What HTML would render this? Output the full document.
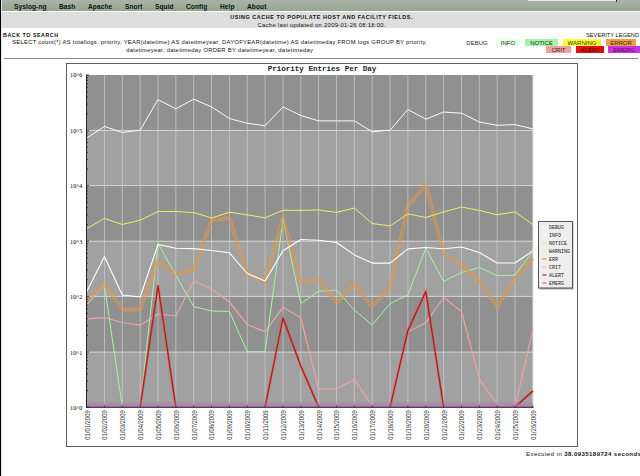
<!DOCTYPE html>
<html><head><meta charset="utf-8"><style>
html,body{margin:0;padding:0;background:#fff;width:640px;height:476px;overflow:hidden;position:relative;font-family:"Liberation Sans",sans-serif;}
.abs{position:absolute;white-space:nowrap;}
#lb{position:absolute;left:0;top:0;width:1px;height:476px;background:#000;}
#lb2{position:absolute;left:1px;top:0;width:1px;height:476px;background:#e4e4e4;}
#nav{position:absolute;left:0;top:0;width:640px;height:11px;background:linear-gradient(#a7b5a4,#96a693);}
#band{position:absolute;left:0;top:12px;width:640px;height:16px;background:#dedede;}
.nv{position:absolute;top:2.4px;font-size:6.6px;letter-spacing:0.08px;font-weight:bold;color:#0a160a;line-height:9px;}
.hd{position:absolute;left:1.7px;width:640px;text-align:center;font-size:6.6px;line-height:8px;color:#111;}
.t{font-size:6.4px;line-height:8px;color:#111;}
.lgb{position:absolute;height:7px;font-size:6px;line-height:8px;text-align:center;color:#2a2a2a;overflow:hidden;}
svg{position:absolute;left:0;top:0;}
.yl{font-family:"Liberation Serif",serif;font-size:6.2px;fill:#000;}
.xl{font-family:"Liberation Sans",sans-serif;font-size:6.3px;fill:#333;}
.title{font-family:"Liberation Mono",monospace;font-size:7.55px;font-weight:bold;fill:#222;}
.lg{font-family:"Liberation Mono",monospace;font-size:5px;fill:#222;}
</style></head><body>
<div id="nav"></div>
<div id="band"></div>
<div class="nv" style="left:14px">Syslog-ng</div>
<div class="nv" style="left:59px">Bash</div>
<div class="nv" style="left:88px">Apache</div>
<div class="nv" style="left:125px">Snort</div>
<div class="nv" style="left:155px">Squid</div>
<div class="nv" style="left:186px">Config</div>
<div class="nv" style="left:220px">Help</div>
<div class="nv" style="left:247px">About</div>
<div style="position:absolute;left:528px;top:0;width:88px;height:1.3px;background:#e2eae0;"></div><div style="position:absolute;left:616px;top:0;width:1px;height:1.5px;background:#333;"></div>
<div class="hd" style="top:13.3px;font-weight:bold;font-size:5.45px;letter-spacing:0.56px;">USING CACHE TO POPULATE HOST AND FACILITY FIELDS,</div>
<div class="hd" style="top:20.7px;font-size:5.9px;letter-spacing:0.27px;">Cache last updated on 2009-01-26 08:18:00.</div>
<div class="abs t" style="left:3px;top:31.3px;font-weight:bold;font-size:5.3px;letter-spacing:0.55px;">BACK TO SEARCH</div>
<div class="abs t" style="left:1.2px;top:38.2px;width:437px;text-align:center;white-space:normal;font-size:5.85px;letter-spacing:0.27px;">SELECT count(*) AS totallogs, priority, YEAR(datetime) AS datetimeyear, DAYOFYEAR(datetime) AS datetimeday FROM logs GROUP BY priority,<br>datetimeyear, datetimeday ORDER BY datetimeyear, datetimeday</div>
<div class="abs t" style="left:586px;top:30.7px;font-size:5.7px;">SEVERITY LEGEND</div>
<div class="lgb" style="left:462px;top:39px;width:30px;">DEBUG</div>
<div class="lgb" style="left:496px;top:39px;width:24px;background:#e6ffe6;color:#203820;">INFO</div>
<div class="lgb" style="left:525px;top:39px;width:33px;background:#aaf0aa;color:#1a401a;">NOTICE</div>
<div class="lgb" style="left:563px;top:39px;width:38px;background:#ffff33;">WARNING</div>
<div class="lgb" style="left:606px;top:39px;width:30px;background:#f0a040;">ERROR</div>
<div class="lgb" style="left:546px;top:46px;width:25px;background:#f0a0a0;">CRIT</div>
<div class="lgb" style="left:576px;top:46px;width:28px;background:#dd1111;color:#660000;">ALERT</div>
<div class="lgb" style="left:608px;top:46px;width:32px;background:#cc33dd;color:#660066;">EMERG</div>
<div style="position:absolute;left:4px;top:58px;width:634px;height:1px;background:#8a8a8a;"></div>
<svg width="640" height="476" viewBox="0 0 640 476">
<rect x="66.5" y="63.5" width="511" height="383" fill="#fff" stroke="#5e5e5e" stroke-width="1"/>
<rect x="86.6" y="75.00" width="446.25" height="55.40" fill="#909090"/>
<rect x="86.6" y="130.40" width="446.25" height="55.20" fill="#a1a1a1"/>
<rect x="86.6" y="185.60" width="446.25" height="55.60" fill="#909090"/>
<rect x="86.6" y="241.20" width="446.25" height="55.20" fill="#a1a1a1"/>
<rect x="86.6" y="296.40" width="446.25" height="55.70" fill="#909090"/>
<rect x="86.6" y="352.10" width="446.25" height="55.10" fill="#a1a1a1"/>
<line x1="104.45" y1="75" x2="104.45" y2="407" stroke="#d0d0d0" stroke-width="0.7"/>
<line x1="122.30" y1="75" x2="122.30" y2="407" stroke="#d0d0d0" stroke-width="0.7"/>
<line x1="140.15" y1="75" x2="140.15" y2="407" stroke="#d0d0d0" stroke-width="0.7"/>
<line x1="158.00" y1="75" x2="158.00" y2="407" stroke="#d0d0d0" stroke-width="0.7"/>
<line x1="175.85" y1="75" x2="175.85" y2="407" stroke="#d0d0d0" stroke-width="0.7"/>
<line x1="193.70" y1="75" x2="193.70" y2="407" stroke="#d0d0d0" stroke-width="0.7"/>
<line x1="211.55" y1="75" x2="211.55" y2="407" stroke="#d0d0d0" stroke-width="0.7"/>
<line x1="229.40" y1="75" x2="229.40" y2="407" stroke="#d0d0d0" stroke-width="0.7"/>
<line x1="247.25" y1="75" x2="247.25" y2="407" stroke="#d0d0d0" stroke-width="0.7"/>
<line x1="265.10" y1="75" x2="265.10" y2="407" stroke="#d0d0d0" stroke-width="0.7"/>
<line x1="282.95" y1="75" x2="282.95" y2="407" stroke="#d0d0d0" stroke-width="0.7"/>
<line x1="300.80" y1="75" x2="300.80" y2="407" stroke="#d0d0d0" stroke-width="0.7"/>
<line x1="318.65" y1="75" x2="318.65" y2="407" stroke="#d0d0d0" stroke-width="0.7"/>
<line x1="336.50" y1="75" x2="336.50" y2="407" stroke="#d0d0d0" stroke-width="0.7"/>
<line x1="354.35" y1="75" x2="354.35" y2="407" stroke="#d0d0d0" stroke-width="0.7"/>
<line x1="372.20" y1="75" x2="372.20" y2="407" stroke="#d0d0d0" stroke-width="0.7"/>
<line x1="390.05" y1="75" x2="390.05" y2="407" stroke="#d0d0d0" stroke-width="0.7"/>
<line x1="407.90" y1="75" x2="407.90" y2="407" stroke="#d0d0d0" stroke-width="0.7"/>
<line x1="425.75" y1="75" x2="425.75" y2="407" stroke="#d0d0d0" stroke-width="0.7"/>
<line x1="443.60" y1="75" x2="443.60" y2="407" stroke="#d0d0d0" stroke-width="0.7"/>
<line x1="461.45" y1="75" x2="461.45" y2="407" stroke="#d0d0d0" stroke-width="0.7"/>
<line x1="479.30" y1="75" x2="479.30" y2="407" stroke="#d0d0d0" stroke-width="0.7"/>
<line x1="497.15" y1="75" x2="497.15" y2="407" stroke="#d0d0d0" stroke-width="0.7"/>
<line x1="515.00" y1="75" x2="515.00" y2="407" stroke="#d0d0d0" stroke-width="0.7"/>
<line x1="532.85" y1="75" x2="532.85" y2="407" stroke="#d0d0d0" stroke-width="0.7"/>
<line x1="86.6" y1="130.40" x2="532.85" y2="130.40" stroke="#d6d6d6" stroke-width="0.9"/>
<line x1="86.6" y1="185.60" x2="532.85" y2="185.60" stroke="#d6d6d6" stroke-width="0.9"/>
<line x1="86.6" y1="241.20" x2="532.85" y2="241.20" stroke="#d6d6d6" stroke-width="0.9"/>
<line x1="86.6" y1="296.40" x2="532.85" y2="296.40" stroke="#d6d6d6" stroke-width="0.9"/>
<line x1="86.6" y1="352.10" x2="532.85" y2="352.10" stroke="#d6d6d6" stroke-width="0.9"/>
<defs><clipPath id="cp"><rect x="80" y="60" width="460" height="345.8"/></clipPath></defs>
<polyline clip-path="url(#cp)" points="86.6,138.3 104.4,126.4 122.3,132.5 140.2,130.1 158.0,99.6 175.8,108.8 193.7,99.2 211.6,106.9 229.4,118.5 247.2,123.3 265.1,125.7 283.0,106.9 300.8,115.5 318.6,120.9 336.5,120.9 354.4,120.9 372.2,131.8 390.1,130.1 407.9,109.5 425.8,119.2 443.6,112.0 461.5,113.2 479.3,122.0 497.1,125.3 515.0,124.6 532.9,128.9" fill="none" stroke="#f0fff0" stroke-width="1.0" stroke-linejoin="round"/>
<polyline clip-path="url(#cp)" points="86.6,318.8 104.4,317.7 122.3,322.5 140.2,325.2 158.0,314.0 175.8,316.0 193.7,281.0 211.6,289.0 229.4,302.0 247.2,324.5 265.1,331.8 283.0,307.2 300.8,317.7 318.6,389.0 336.5,389.0 354.4,379.4 372.2,406.0 390.1,407.0 407.9,332.0 425.8,322.6 443.6,297.5 461.5,311.4 479.3,379.0 497.1,404.0 515.0,407.0 532.9,329.5" fill="none" stroke="#e8a4a4" stroke-width="1.25" stroke-linejoin="round"/>
<polyline clip-path="url(#cp)" points="86.6,305.0 104.4,285.0 122.3,407.0 140.2,407.0 158.0,243.5 175.8,275.0 193.7,306.6 211.6,311.0 229.4,311.4 247.2,351.7 265.1,351.7 283.0,219.5 300.8,303.5 318.6,291.3 336.5,290.0 354.4,310.0 372.2,325.0 390.1,303.5 407.9,295.0 425.8,248.0 443.6,281.4 461.5,272.5 479.3,267.5 497.1,275.7 515.0,275.0 532.9,251.6" fill="none" stroke="#a4f4a4" stroke-width="1" stroke-linejoin="round"/>
<defs><mask id="errm" maskUnits="userSpaceOnUse" x="0" y="0" width="640" height="476"><polyline points="86.6,301.0 104.4,284.0 122.3,309.5 140.2,309.5 158.0,261.0 175.8,274.0 193.7,270.0 211.6,220.0 229.4,218.2 247.2,273.0 265.1,281.6 283.0,217.7 300.8,283.0 318.6,279.0 336.5,303.0 354.4,284.0 372.2,306.5 390.1,288.0 407.9,206.0 425.8,184.6 443.6,253.0 461.5,265.5 479.3,280.7 497.1,306.3 515.0,279.0 532.9,258.0" fill="none" stroke="#fff" stroke-width="3.8" stroke-linejoin="round"/><polyline points="86.6,301.0 104.4,284.0 122.3,309.5 140.2,309.5 158.0,261.0 175.8,274.0 193.7,270.0 211.6,220.0 229.4,218.2 247.2,273.0 265.1,281.6 283.0,217.7 300.8,283.0 318.6,279.0 336.5,303.0 354.4,284.0 372.2,306.5 390.1,288.0 407.9,206.0 425.8,184.6 443.6,253.0 461.5,265.5 479.3,280.7 497.1,306.3 515.0,279.0 532.9,258.0" fill="none" stroke="#000" stroke-width="1.6" stroke-linejoin="round"/></mask></defs>
<polyline points="86.6,301.0 104.4,284.0 122.3,309.5 140.2,309.5 158.0,261.0 175.8,274.0 193.7,270.0 211.6,220.0 229.4,218.2 247.2,273.0 265.1,281.6 283.0,217.7 300.8,283.0 318.6,279.0 336.5,303.0 354.4,284.0 372.2,306.5 390.1,288.0 407.9,206.0 425.8,184.6 443.6,253.0 461.5,265.5 479.3,280.7 497.1,306.3 515.0,279.0 532.9,258.0" fill="none" stroke="#dc9a58" stroke-opacity="0.35" stroke-width="3.8" stroke-linejoin="round"/>
<polyline mask="url(#errm)" points="86.6,301.0 104.4,284.0 122.3,309.5 140.2,309.5 158.0,261.0 175.8,274.0 193.7,270.0 211.6,220.0 229.4,218.2 247.2,273.0 265.1,281.6 283.0,217.7 300.8,283.0 318.6,279.0 336.5,303.0 354.4,284.0 372.2,306.5 390.1,288.0 407.9,206.0 425.8,184.6 443.6,253.0 461.5,265.5 479.3,280.7 497.1,306.3 515.0,279.0 532.9,258.0" fill="none" stroke="#e09848" stroke-opacity="0.7" stroke-width="3.8" stroke-linejoin="round"/>
<polyline clip-path="url(#cp)" points="86.6,292.0 104.4,256.5 122.3,295.0 140.2,297.0 158.0,244.5 175.8,248.3 193.7,248.6 211.6,250.5 229.4,252.8 247.2,273.5 265.1,281.0 283.0,250.8 300.8,239.5 318.6,240.3 336.5,242.5 354.4,254.9 372.2,263.1 390.1,263.1 407.9,248.9 425.8,247.5 443.6,248.7 461.5,247.0 479.3,252.5 497.1,263.0 515.0,263.0 532.9,250.8" fill="none" stroke="#ffffff" stroke-width="1.1" stroke-linejoin="round"/>
<polyline clip-path="url(#cp)" points="86.6,228.7 104.4,218.5 122.3,224.5 140.2,220.2 158.0,211.5 175.8,211.5 193.7,212.5 211.6,218.0 229.4,212.2 247.2,214.8 265.1,217.8 283.0,210.3 300.8,210.3 318.6,210.0 336.5,212.4 354.4,208.0 372.2,223.5 390.1,225.9 407.9,213.9 425.8,217.5 443.6,211.9 461.5,207.0 479.3,210.5 497.1,214.7 515.0,211.9 532.9,224.6" fill="none" stroke="#eeee66" stroke-width="1" stroke-linejoin="round"/>
<polyline clip-path="url(#cp)" points="86.6,407.0 104.4,407.0 122.3,407.0 140.2,407.0 158.0,285.5 175.8,407.0 193.7,407.0 211.6,407.0 229.4,407.0 247.2,407.0 265.1,407.0 283.0,318.0 300.8,366.0 318.6,407.0 336.5,407.0 354.4,407.0 372.2,407.0 390.1,407.0 407.9,330.5 425.8,291.5 443.6,407.0 461.5,407.0 479.3,407.0 497.1,407.0 515.0,407.0 532.9,391.0" fill="none" stroke="#e04848" stroke-opacity="0.55" stroke-width="2.5"/>
<polyline clip-path="url(#cp)" points="86.6,407.0 104.4,407.0 122.3,407.0 140.2,407.0 158.0,285.5 175.8,407.0 193.7,407.0 211.6,407.0 229.4,407.0 247.2,407.0 265.1,407.0 283.0,318.0 300.8,366.0 318.6,407.0 336.5,407.0 354.4,407.0 372.2,407.0 390.1,407.0 407.9,330.5 425.8,291.5 443.6,407.0 461.5,407.0 479.3,407.0 497.1,407.0 515.0,407.0 532.9,391.0" fill="none" stroke="#b81818" stroke-width="1.2" stroke-linejoin="round"/>
<defs><linearGradient id="em" x1="0" y1="0" x2="0" y2="1"><stop offset="0" stop-color="#b070b0" stop-opacity="0"/><stop offset="0.3" stop-color="#b070b0" stop-opacity="0.35"/><stop offset="1" stop-color="#b070b0" stop-opacity="0.6"/></linearGradient></defs>
<rect x="86.6" y="401.3" width="446.3" height="6" fill="url(#em)"/>
<line x1="86.5" y1="74.5" x2="86.5" y2="407.5" stroke="#222" stroke-width="1"/>
<line x1="86" y1="407.3" x2="533.5" y2="407.3" stroke="#301830" stroke-width="1"/>
<line x1="86.5" y1="113.72" x2="88" y2="113.72" stroke="#222" stroke-width="0.7"/>
<line x1="86.5" y1="103.97" x2="88" y2="103.97" stroke="#222" stroke-width="0.7"/>
<line x1="86.5" y1="97.05" x2="88" y2="97.05" stroke="#222" stroke-width="0.7"/>
<line x1="86.5" y1="91.68" x2="88" y2="91.68" stroke="#222" stroke-width="0.7"/>
<line x1="86.5" y1="87.29" x2="88" y2="87.29" stroke="#222" stroke-width="0.7"/>
<line x1="86.5" y1="83.58" x2="88" y2="83.58" stroke="#222" stroke-width="0.7"/>
<line x1="86.5" y1="80.37" x2="88" y2="80.37" stroke="#222" stroke-width="0.7"/>
<line x1="86.5" y1="77.53" x2="88" y2="77.53" stroke="#222" stroke-width="0.7"/>
<line x1="86.5" y1="168.98" x2="88" y2="168.98" stroke="#222" stroke-width="0.7"/>
<line x1="86.5" y1="159.26" x2="88" y2="159.26" stroke="#222" stroke-width="0.7"/>
<line x1="86.5" y1="152.37" x2="88" y2="152.37" stroke="#222" stroke-width="0.7"/>
<line x1="86.5" y1="147.02" x2="88" y2="147.02" stroke="#222" stroke-width="0.7"/>
<line x1="86.5" y1="142.65" x2="88" y2="142.65" stroke="#222" stroke-width="0.7"/>
<line x1="86.5" y1="138.95" x2="88" y2="138.95" stroke="#222" stroke-width="0.7"/>
<line x1="86.5" y1="135.75" x2="88" y2="135.75" stroke="#222" stroke-width="0.7"/>
<line x1="86.5" y1="132.93" x2="88" y2="132.93" stroke="#222" stroke-width="0.7"/>
<line x1="86.5" y1="224.46" x2="88" y2="224.46" stroke="#222" stroke-width="0.7"/>
<line x1="86.5" y1="214.67" x2="88" y2="214.67" stroke="#222" stroke-width="0.7"/>
<line x1="86.5" y1="207.73" x2="88" y2="207.73" stroke="#222" stroke-width="0.7"/>
<line x1="86.5" y1="202.34" x2="88" y2="202.34" stroke="#222" stroke-width="0.7"/>
<line x1="86.5" y1="197.93" x2="88" y2="197.93" stroke="#222" stroke-width="0.7"/>
<line x1="86.5" y1="194.21" x2="88" y2="194.21" stroke="#222" stroke-width="0.7"/>
<line x1="86.5" y1="190.99" x2="88" y2="190.99" stroke="#222" stroke-width="0.7"/>
<line x1="86.5" y1="188.14" x2="88" y2="188.14" stroke="#222" stroke-width="0.7"/>
<line x1="86.5" y1="279.78" x2="88" y2="279.78" stroke="#222" stroke-width="0.7"/>
<line x1="86.5" y1="270.06" x2="88" y2="270.06" stroke="#222" stroke-width="0.7"/>
<line x1="86.5" y1="263.17" x2="88" y2="263.17" stroke="#222" stroke-width="0.7"/>
<line x1="86.5" y1="257.82" x2="88" y2="257.82" stroke="#222" stroke-width="0.7"/>
<line x1="86.5" y1="253.45" x2="88" y2="253.45" stroke="#222" stroke-width="0.7"/>
<line x1="86.5" y1="249.75" x2="88" y2="249.75" stroke="#222" stroke-width="0.7"/>
<line x1="86.5" y1="246.55" x2="88" y2="246.55" stroke="#222" stroke-width="0.7"/>
<line x1="86.5" y1="243.73" x2="88" y2="243.73" stroke="#222" stroke-width="0.7"/>
<line x1="86.5" y1="335.33" x2="88" y2="335.33" stroke="#222" stroke-width="0.7"/>
<line x1="86.5" y1="325.52" x2="88" y2="325.52" stroke="#222" stroke-width="0.7"/>
<line x1="86.5" y1="318.57" x2="88" y2="318.57" stroke="#222" stroke-width="0.7"/>
<line x1="86.5" y1="313.17" x2="88" y2="313.17" stroke="#222" stroke-width="0.7"/>
<line x1="86.5" y1="308.76" x2="88" y2="308.76" stroke="#222" stroke-width="0.7"/>
<line x1="86.5" y1="305.03" x2="88" y2="305.03" stroke="#222" stroke-width="0.7"/>
<line x1="86.5" y1="301.80" x2="88" y2="301.80" stroke="#222" stroke-width="0.7"/>
<line x1="86.5" y1="298.95" x2="88" y2="298.95" stroke="#222" stroke-width="0.7"/>
<line x1="86.5" y1="390.61" x2="88" y2="390.61" stroke="#222" stroke-width="0.7"/>
<line x1="86.5" y1="380.91" x2="88" y2="380.91" stroke="#222" stroke-width="0.7"/>
<line x1="86.5" y1="374.03" x2="88" y2="374.03" stroke="#222" stroke-width="0.7"/>
<line x1="86.5" y1="368.69" x2="88" y2="368.69" stroke="#222" stroke-width="0.7"/>
<line x1="86.5" y1="364.32" x2="88" y2="364.32" stroke="#222" stroke-width="0.7"/>
<line x1="86.5" y1="360.64" x2="88" y2="360.64" stroke="#222" stroke-width="0.7"/>
<line x1="86.5" y1="357.44" x2="88" y2="357.44" stroke="#222" stroke-width="0.7"/>
<line x1="86.5" y1="354.62" x2="88" y2="354.62" stroke="#222" stroke-width="0.7"/>
<line x1="86.5" y1="75.00" x2="89" y2="75.00" stroke="#222" stroke-width="0.8"/>
<line x1="86.5" y1="130.40" x2="89" y2="130.40" stroke="#222" stroke-width="0.8"/>
<line x1="86.5" y1="185.60" x2="89" y2="185.60" stroke="#222" stroke-width="0.8"/>
<line x1="86.5" y1="241.20" x2="89" y2="241.20" stroke="#222" stroke-width="0.8"/>
<line x1="86.5" y1="296.40" x2="89" y2="296.40" stroke="#222" stroke-width="0.8"/>
<line x1="86.5" y1="352.10" x2="89" y2="352.10" stroke="#222" stroke-width="0.8"/>
<line x1="86.5" y1="407.20" x2="89" y2="407.20" stroke="#222" stroke-width="0.8"/>
<line x1="104.45" y1="405.5" x2="104.45" y2="407.5" stroke="#222" stroke-width="0.8"/>
<line x1="122.30" y1="405.5" x2="122.30" y2="407.5" stroke="#222" stroke-width="0.8"/>
<line x1="140.15" y1="405.5" x2="140.15" y2="407.5" stroke="#222" stroke-width="0.8"/>
<line x1="158.00" y1="405.5" x2="158.00" y2="407.5" stroke="#222" stroke-width="0.8"/>
<line x1="175.85" y1="405.5" x2="175.85" y2="407.5" stroke="#222" stroke-width="0.8"/>
<line x1="193.70" y1="405.5" x2="193.70" y2="407.5" stroke="#222" stroke-width="0.8"/>
<line x1="211.55" y1="405.5" x2="211.55" y2="407.5" stroke="#222" stroke-width="0.8"/>
<line x1="229.40" y1="405.5" x2="229.40" y2="407.5" stroke="#222" stroke-width="0.8"/>
<line x1="247.25" y1="405.5" x2="247.25" y2="407.5" stroke="#222" stroke-width="0.8"/>
<line x1="265.10" y1="405.5" x2="265.10" y2="407.5" stroke="#222" stroke-width="0.8"/>
<line x1="282.95" y1="405.5" x2="282.95" y2="407.5" stroke="#222" stroke-width="0.8"/>
<line x1="300.80" y1="405.5" x2="300.80" y2="407.5" stroke="#222" stroke-width="0.8"/>
<line x1="318.65" y1="405.5" x2="318.65" y2="407.5" stroke="#222" stroke-width="0.8"/>
<line x1="336.50" y1="405.5" x2="336.50" y2="407.5" stroke="#222" stroke-width="0.8"/>
<line x1="354.35" y1="405.5" x2="354.35" y2="407.5" stroke="#222" stroke-width="0.8"/>
<line x1="372.20" y1="405.5" x2="372.20" y2="407.5" stroke="#222" stroke-width="0.8"/>
<line x1="390.05" y1="405.5" x2="390.05" y2="407.5" stroke="#222" stroke-width="0.8"/>
<line x1="407.90" y1="405.5" x2="407.90" y2="407.5" stroke="#222" stroke-width="0.8"/>
<line x1="425.75" y1="405.5" x2="425.75" y2="407.5" stroke="#222" stroke-width="0.8"/>
<line x1="443.60" y1="405.5" x2="443.60" y2="407.5" stroke="#222" stroke-width="0.8"/>
<line x1="461.45" y1="405.5" x2="461.45" y2="407.5" stroke="#222" stroke-width="0.8"/>
<line x1="479.30" y1="405.5" x2="479.30" y2="407.5" stroke="#222" stroke-width="0.8"/>
<line x1="497.15" y1="405.5" x2="497.15" y2="407.5" stroke="#222" stroke-width="0.8"/>
<line x1="515.00" y1="405.5" x2="515.00" y2="407.5" stroke="#222" stroke-width="0.8"/>
<line x1="532.85" y1="405.5" x2="532.85" y2="407.5" stroke="#222" stroke-width="0.8"/>
<text x="82.3" y="77.40" text-anchor="end" class="yl">10^6</text>
<text x="82.3" y="132.80" text-anchor="end" class="yl">10^5</text>
<text x="82.3" y="188.00" text-anchor="end" class="yl">10^4</text>
<text x="82.3" y="243.60" text-anchor="end" class="yl">10^3</text>
<text x="82.3" y="298.80" text-anchor="end" class="yl">10^2</text>
<text x="82.3" y="354.50" text-anchor="end" class="yl">10^1</text>
<text x="82.3" y="409.60" text-anchor="end" class="yl">10^0</text>
<text transform="translate(86.60,410.3) rotate(-90)" x="0" y="0" dy="2.9" text-anchor="end" textLength="29.5" lengthAdjust="spacingAndGlyphs" class="xl">01/01/2009</text>
<text transform="translate(104.45,410.3) rotate(-90)" x="0" y="0" dy="2.9" text-anchor="end" textLength="29.5" lengthAdjust="spacingAndGlyphs" class="xl">01/02/2009</text>
<text transform="translate(122.30,410.3) rotate(-90)" x="0" y="0" dy="2.9" text-anchor="end" textLength="29.5" lengthAdjust="spacingAndGlyphs" class="xl">01/03/2009</text>
<text transform="translate(140.15,410.3) rotate(-90)" x="0" y="0" dy="2.9" text-anchor="end" textLength="29.5" lengthAdjust="spacingAndGlyphs" class="xl">01/04/2009</text>
<text transform="translate(158.00,410.3) rotate(-90)" x="0" y="0" dy="2.9" text-anchor="end" textLength="29.5" lengthAdjust="spacingAndGlyphs" class="xl">01/05/2009</text>
<text transform="translate(175.85,410.3) rotate(-90)" x="0" y="0" dy="2.9" text-anchor="end" textLength="29.5" lengthAdjust="spacingAndGlyphs" class="xl">01/06/2009</text>
<text transform="translate(193.70,410.3) rotate(-90)" x="0" y="0" dy="2.9" text-anchor="end" textLength="29.5" lengthAdjust="spacingAndGlyphs" class="xl">01/07/2009</text>
<text transform="translate(211.55,410.3) rotate(-90)" x="0" y="0" dy="2.9" text-anchor="end" textLength="29.5" lengthAdjust="spacingAndGlyphs" class="xl">01/08/2009</text>
<text transform="translate(229.40,410.3) rotate(-90)" x="0" y="0" dy="2.9" text-anchor="end" textLength="29.5" lengthAdjust="spacingAndGlyphs" class="xl">01/09/2009</text>
<text transform="translate(247.25,410.3) rotate(-90)" x="0" y="0" dy="2.9" text-anchor="end" textLength="29.5" lengthAdjust="spacingAndGlyphs" class="xl">01/10/2009</text>
<text transform="translate(265.10,410.3) rotate(-90)" x="0" y="0" dy="2.9" text-anchor="end" textLength="29.5" lengthAdjust="spacingAndGlyphs" class="xl">01/11/2009</text>
<text transform="translate(282.95,410.3) rotate(-90)" x="0" y="0" dy="2.9" text-anchor="end" textLength="29.5" lengthAdjust="spacingAndGlyphs" class="xl">01/12/2009</text>
<text transform="translate(300.80,410.3) rotate(-90)" x="0" y="0" dy="2.9" text-anchor="end" textLength="29.5" lengthAdjust="spacingAndGlyphs" class="xl">01/13/2009</text>
<text transform="translate(318.65,410.3) rotate(-90)" x="0" y="0" dy="2.9" text-anchor="end" textLength="29.5" lengthAdjust="spacingAndGlyphs" class="xl">01/14/2009</text>
<text transform="translate(336.50,410.3) rotate(-90)" x="0" y="0" dy="2.9" text-anchor="end" textLength="29.5" lengthAdjust="spacingAndGlyphs" class="xl">01/15/2009</text>
<text transform="translate(354.35,410.3) rotate(-90)" x="0" y="0" dy="2.9" text-anchor="end" textLength="29.5" lengthAdjust="spacingAndGlyphs" class="xl">01/16/2009</text>
<text transform="translate(372.20,410.3) rotate(-90)" x="0" y="0" dy="2.9" text-anchor="end" textLength="29.5" lengthAdjust="spacingAndGlyphs" class="xl">01/17/2009</text>
<text transform="translate(390.05,410.3) rotate(-90)" x="0" y="0" dy="2.9" text-anchor="end" textLength="29.5" lengthAdjust="spacingAndGlyphs" class="xl">01/18/2009</text>
<text transform="translate(407.90,410.3) rotate(-90)" x="0" y="0" dy="2.9" text-anchor="end" textLength="29.5" lengthAdjust="spacingAndGlyphs" class="xl">01/19/2009</text>
<text transform="translate(425.75,410.3) rotate(-90)" x="0" y="0" dy="2.9" text-anchor="end" textLength="29.5" lengthAdjust="spacingAndGlyphs" class="xl">01/20/2009</text>
<text transform="translate(443.60,410.3) rotate(-90)" x="0" y="0" dy="2.9" text-anchor="end" textLength="29.5" lengthAdjust="spacingAndGlyphs" class="xl">01/21/2009</text>
<text transform="translate(461.45,410.3) rotate(-90)" x="0" y="0" dy="2.9" text-anchor="end" textLength="29.5" lengthAdjust="spacingAndGlyphs" class="xl">01/22/2009</text>
<text transform="translate(479.30,410.3) rotate(-90)" x="0" y="0" dy="2.9" text-anchor="end" textLength="29.5" lengthAdjust="spacingAndGlyphs" class="xl">01/23/2009</text>
<text transform="translate(497.15,410.3) rotate(-90)" x="0" y="0" dy="2.9" text-anchor="end" textLength="29.5" lengthAdjust="spacingAndGlyphs" class="xl">01/24/2009</text>
<text transform="translate(515.00,410.3) rotate(-90)" x="0" y="0" dy="2.9" text-anchor="end" textLength="29.5" lengthAdjust="spacingAndGlyphs" class="xl">01/25/2009</text>
<text transform="translate(532.85,410.3) rotate(-90)" x="0" y="0" dy="2.9" text-anchor="end" textLength="29.5" lengthAdjust="spacingAndGlyphs" class="xl">01/26/2009</text>
<text x="322" y="71.4" text-anchor="middle" class="title">Priority Entries Per Day</text>
<rect x="539.5" y="222.5" width="34" height="67" fill="#555" opacity="0.5"/>
<rect x="538.5" y="221.5" width="34" height="66.5" fill="#eeeeee" stroke="#555" stroke-width="1"/>
<rect x="542.5" y="226.2" width="4" height="1.6" fill="#ffffff"/>
<text x="549" y="229.0" class="lg">DEBUG</text>
<rect x="542.5" y="234.2" width="4" height="1.6" fill="#f4fff4"/>
<text x="549" y="237.0" class="lg">INFO</text>
<rect x="542.5" y="242.2" width="4" height="1.6" fill="#c8f0c8"/>
<text x="549" y="245.0" class="lg">NOTICE</text>
<rect x="542.5" y="250.2" width="4" height="1.6" fill="#f0f0a0"/>
<text x="549" y="253.0" class="lg">WARNING</text>
<rect x="542.5" y="258.2" width="4" height="1.6" fill="#e0a878"/>
<text x="549" y="261.0" class="lg">ERR</text>
<rect x="542.5" y="266.2" width="4" height="1.6" fill="#f0c8c8"/>
<text x="549" y="269.0" class="lg">CRIT</text>
<rect x="542.5" y="274.2" width="4" height="1.6" fill="#c85858"/>
<text x="549" y="277.0" class="lg">ALERT</text>
<rect x="542.5" y="282.2" width="4" height="1.6" fill="#c090d0"/>
<text x="549" y="285.0" class="lg">EMERG</text>
</svg>
<div class="abs t" style="left:526px;top:450.3px;font-size:6px;letter-spacing:0.44px;">Executed in <b>38.0935189724 seconds</b></div>
<div id="lb"></div><div id="lb2"></div>
</body></html>
